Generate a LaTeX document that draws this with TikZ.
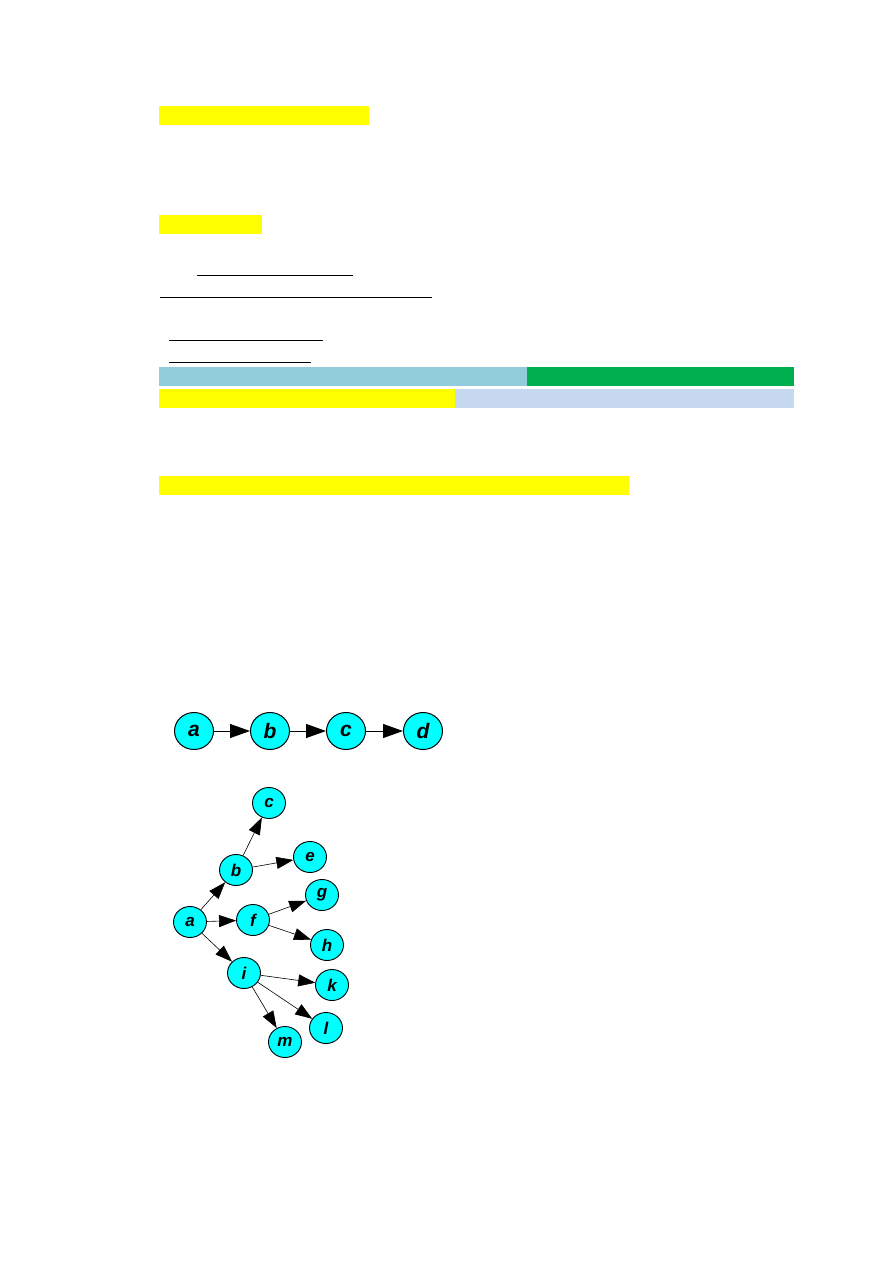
\documentclass[tikz,border=0pt]{standalone}
\usepackage{fontspec}
\setmainfont{Liberation Sans}
\usetikzlibrary{arrows.meta,shapes.geometric}
\definecolor{hlyellow}{HTML}{FFFF00}
\definecolor{ltblue}{HTML}{92CDDC}
\definecolor{grn}{HTML}{00B050}
\definecolor{paleblue}{HTML}{C6D9F0}
\definecolor{nodecyan}{HTML}{00FFFF}
\tikzset{
  bar/.style={fill=#1, draw=none},
  uline/.style={line width=0.9pt, black},
  bignode/.style={ellipse, draw=black, line width=1pt, fill=nodecyan, minimum width=39pt, minimum height=37pt, inner sep=0pt, font=\fontsize{21}{21}\selectfont\bfseries\itshape},
  smallnode/.style={ellipse, draw=black, line width=0.9pt, fill=nodecyan, minimum width=33pt, minimum height=31pt, inner sep=0pt, font=\fontsize{17}{17}\selectfont\bfseries\itshape},
  bigarrow/.style={line width=1pt, -{Triangle[length=20pt,width=14pt]}},
  smallarrow/.style={line width=0.6pt, -{Triangle[length=17pt,width=12pt]}},
}
\begin{document}
\begin{tikzpicture}[x=1pt,y=-1pt]
\useasboundingbox (0,0) rectangle (893,1263);
\fill[white] (0,0) rectangle (893,1263);
% yellow highlight bars
\fill[bar=hlyellow] (159,106) rectangle (369,124.5);
\fill[bar=hlyellow] (159,215) rectangle (262,234);
% underlines
\draw[uline] (197,275) -- (353,275);
\draw[uline] (160,297) -- (432,297);
\draw[uline] (169,340) -- (323,340);
\draw[uline] (169,362) -- (311,362);
% coloured bars
\fill[bar=ltblue] (159,367) rectangle (527,386);
\fill[bar=grn] (527,367) rectangle (794,386);
\fill[bar=hlyellow] (159,389) rectangle (455,408);
\fill[bar=paleblue] (455,389) rectangle (794,408);
\fill[bar=hlyellow] (159,476) rectangle (629,495);
% graph 1
\node[bignode] (a1) at (194,731) {a};
\node[bignode] (b1) at (270,731) {b};
\node[bignode] (c1) at (346,731) {c};
\node[bignode] (d1) at (423,731) {d};
\draw[bigarrow] (a1) -- (b1);
\draw[bigarrow] (b1) -- (c1);
\draw[bigarrow] (c1) -- (d1);
% graph 2
\node[smallnode] (a) at (190,922) {a};
\node[smallnode] (b) at (236,870) {b};
\node[smallnode] (c) at (269,803) {c};
\node[smallnode] (e) at (310,857) {e};
\node[smallnode] (f) at (253,920) {f};
\node[smallnode] (g) at (322,895) {g};
\node[smallnode] (h) at (327,945) {h};
\node[smallnode] (i) at (244,973) {i};
\node[smallnode] (k) at (332,985) {k};
\node[smallnode] (l) at (326,1028) {l};
\node[smallnode] (m) at (285,1042) {m};
\draw[smallarrow] (a) -- (b);
\draw[smallarrow] (a) -- (f);
\draw[smallarrow] (a) -- (i);
\draw[smallarrow] (b) -- (c);
\draw[smallarrow] (b) -- (e);
\draw[smallarrow] (f) -- (g);
\draw[smallarrow] (f) -- (h);
\draw[smallarrow] (i) -- (k);
\draw[smallarrow] (i) -- (l);
\draw[smallarrow] (i) -- (m);
\end{tikzpicture}
\end{document}
